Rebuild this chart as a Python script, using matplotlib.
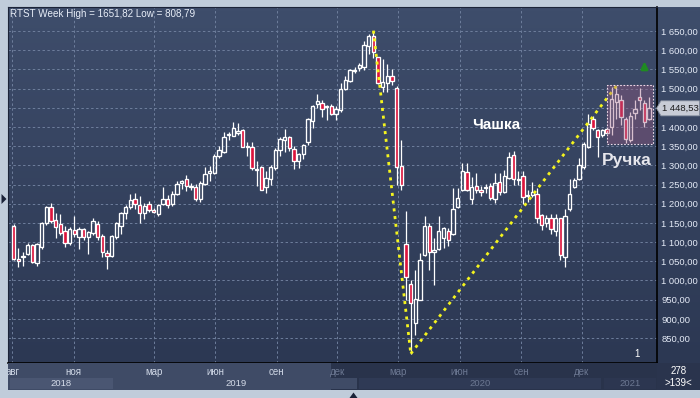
import matplotlib
matplotlib.use('Agg')
import matplotlib.pyplot as plt
import matplotlib.dates as mdates
from matplotlib.colors import LinearSegmentedColormap
from matplotlib.patches import Rectangle, Polygon
import numpy as np
import pandas as pd

plt.rcParams['font.family'] = ['Liberation Sans', 'DejaVu Sans']

# недельные свечи RTS (пятница каждой недели)
first_week = '2018-08-03'
opens = [1141, 1055, 1060, 1069, 1092, 1046, 1088, 1150, 1192, 1157,
         1147, 1130, 1097, 1131, 1112, 1133, 1114, 1123, 1147, 1116,
         1072, 1064, 1112, 1142, 1175, 1191, 1211, 1197, 1176, 1199,
         1184, 1173, 1199, 1211, 1199, 1224, 1253, 1264, 1245, 1244,
         1213, 1251, 1281, 1281, 1324, 1336, 1379, 1376, 1385, 1392,
         1349, 1349, 1288, 1295, 1243, 1265, 1293, 1340, 1366, 1373,
         1342, 1312, 1329, 1361, 1416, 1461, 1463, 1451, 1454, 1435,
         1444, 1500, 1520, 1546, 1553, 1557, 1611, 1637, 1581, 1505,
         1515, 1533, 1501, 1298, 1095, 991, 888, 950, 1066, 1142,
         1075, 1083, 1110, 1130, 1121, 1192, 1236, 1283, 1211, 1247,
         1237, 1240, 1247, 1211, 1257, 1231, 1266, 1327, 1263, 1272,
         1220, 1223, 1225, 1170, 1150, 1162, 1130, 1162, 1060, 1185,
         1244, 1264, 1296, 1349, 1420, 1392, 1379, 1394, 1399, 1465,
         1470, 1420, 1367, 1437, 1477, 1463, 1420]
highs = [1146, 1084, 1075, 1097, 1094, 1098, 1153, 1194, 1203, 1175,
         1173, 1142, 1140, 1168, 1140, 1137, 1130, 1162, 1154, 1120,
         1079, 1118, 1153, 1179, 1197, 1225, 1228, 1220, 1201, 1208,
         1188, 1199, 1244, 1223, 1232, 1258, 1262, 1274, 1253, 1251,
         1260, 1295, 1297, 1329, 1351, 1386, 1386, 1412, 1410, 1394,
         1362, 1360, 1310, 1299, 1286, 1300, 1345, 1375, 1395, 1377,
         1351, 1333, 1356, 1424, 1458, 1487, 1470, 1458, 1461, 1455,
         1515, 1533, 1550, 1556, 1567, 1623, 1643, 1651, 1583, 1578,
         1563, 1550, 1506, 1366, 1182, 1001, 1027, 1071, 1168, 1150,
         1110, 1168, 1140, 1136, 1240, 1240, 1305, 1305, 1270, 1280,
         1245, 1252, 1255, 1279, 1279, 1288, 1334, 1338, 1286, 1286,
         1235, 1257, 1240, 1173, 1170, 1172, 1172, 1164, 1185, 1264,
         1266, 1320, 1360, 1435, 1428, 1394, 1395, 1398, 1505, 1507,
         1482, 1425, 1440, 1470, 1502, 1470, 1478]
lows = [1053, 1036, 1038, 1067, 1046, 1038, 1083, 1145, 1150, 1110,
        1118, 1087, 1092, 1112, 1083, 1105, 1069, 1118, 1105, 1060,
        1029, 1061, 1109, 1120, 1160, 1186, 1187, 1150, 1159, 1178,
        1175, 1168, 1197, 1190, 1194, 1222, 1238, 1234, 1235, 1206,
        1205, 1250, 1259, 1277, 1320, 1331, 1365, 1376, 1378, 1347,
        1323, 1287, 1245, 1235, 1228, 1250, 1289, 1325, 1335, 1338,
        1290, 1294, 1316, 1353, 1398, 1449, 1425, 1418, 1432, 1418,
        1440, 1497, 1516, 1540, 1546, 1549, 1590, 1580, 1512, 1490,
        1490, 1510, 1250, 1236, 949, 809, 858, 948, 1063, 1027,
        988, 1080, 1085, 1090, 1118, 1190, 1234, 1232, 1200, 1228,
        1220, 1229, 1210, 1201, 1222, 1228, 1264, 1250, 1249, 1200,
        1205, 1217, 1150, 1131, 1138, 1120, 1116, 1053, 1036, 1180,
        1240, 1262, 1290, 1345, 1392, 1321, 1375, 1383, 1380, 1420,
        1406, 1357, 1360, 1420, 1444, 1400, 1418]
closes = [1055, 1050, 1063, 1092, 1048, 1095, 1150, 1192, 1156, 1138,
          1124, 1097, 1133, 1121, 1133, 1112, 1127, 1156, 1112, 1075,
          1065, 1116, 1149, 1176, 1192, 1210, 1198, 1175, 1194, 1184,
          1178, 1197, 1213, 1196, 1225, 1251, 1259, 1246, 1243, 1211,
          1253, 1277, 1286, 1324, 1340, 1373, 1381, 1396, 1390, 1349,
          1350, 1292, 1290, 1237, 1266, 1295, 1340, 1368, 1374, 1344,
          1310, 1329, 1353, 1420, 1454, 1468, 1446, 1455, 1435, 1446,
          1498, 1522, 1548, 1548, 1561, 1613, 1637, 1595, 1514, 1517,
          1533, 1521, 1296, 1248, 1008, 941, 951, 1053, 1142, 1075,
          1080, 1130, 1136, 1105, 1185, 1214, 1286, 1237, 1244, 1237,
          1230, 1244, 1214, 1253, 1231, 1272, 1321, 1264, 1262, 1218,
          1222, 1231, 1164, 1144, 1162, 1133, 1162, 1066, 1168, 1225,
          1262, 1301, 1356, 1408, 1396, 1375, 1392, 1385, 1472, 1486,
          1427, 1368, 1429, 1446, 1469, 1413, 1448.53]

price_ticks = [850, 900, 950, 1000, 1050, 1100, 1150, 1200, 1250, 1300,
               1350, 1400, 1450, 1500, 1550, 1600, 1650]
month_ticks = ['2018-08-01', '2018-11-01', '2019-03-01', '2019-06-01', '2019-09-01',
               '2019-12-01', '2020-03-01', '2020-06-01', '2020-09-01', '2020-12-01']
month_labels = ['авг', 'ноя', 'мар', 'июн', 'сен', 'дек', 'мар', 'июн', 'сен', 'дек']
years = ['2018', '2019', '2020', '2021']
last_price = 1448.53

W, H = 700, 398
def frac(x0, y0, x1, y1):
    return [x0 / W, 1 - y1 / H, (x1 - x0) / W, (y1 - y0) / H]

frame_col = '#c0ccda'
red = '#dc143c'
fig = plt.figure(figsize=(7, 3.98), dpi=100, facecolor=frame_col)

# фон с градиентом
bg = fig.add_axes(frac(8.3, 7.3, 700, 363.3))
cmap = LinearSegmentedColormap.from_list('bg', ['#2c3853', '#3e4d6b'])
bg.imshow(np.linspace(0, 1, 100)[::-1].reshape(-1, 1), cmap=cmap, aspect='auto',
          extent=[0, 1, 0, 1])
bg.axis('off')

ax = fig.add_axes(frac(8.3, 7.3, 657.3, 363.3))
ax.set_facecolor('none')

dates = pd.date_range(first_week, periods=len(opens), freq='7D')
x = mdates.date2num(dates)
o = np.array(opens, float)
hi = np.array(highs, float)
lo = np.array(lows, float)
c = np.array(closes, float)
body_lo = np.minimum(o, c)
body_hi = np.maximum(o, c)
up = c >= o

w = 5.0
ax.vlines(x, body_hi, hi, colors='white', lw=0.9, zorder=3)
ax.vlines(x, lo, body_lo, colors='white', lw=0.9, zorder=3)
ax.bar(x, np.maximum(body_hi - body_lo, 2), width=w, bottom=body_lo,
       color=['none' if u else red for u in up], edgecolor='white', linewidth=0.95, zorder=4)

x0 = mdates.date2num(pd.Timestamp(first_week))
ax.set_xlim(x0 - 7.8, x0 + 964.2)
ax.set_ylim(784.1, 1711.8)

month_x = mdates.date2num(pd.to_datetime(month_ticks))
ax.set_xticks(month_x)
ax.set_yticks(price_ticks)
# метка 1450 закрыта меткой последней цены
ax.set_yticklabels(['' if v == 1450 else
                    (f'{v // 1000} {v % 1000:03d},00' if v >= 1000 else f'{v},00')
                    for v in price_ticks])
ax.yaxis.tick_right()
ax.tick_params(axis='y', length=0, pad=3, labelsize=6.8, labelcolor='#e4eaf6')
ax.tick_params(axis='x', length=0, labelbottom=False)
ax.grid(True, color='#6e7e9c', linestyle=(0, (2.5, 2.5)), linewidth=0.7, zorder=1)
for s in ['top', 'left']:
    ax.spines[s].set_color('#1c2438')
for s in ['right', 'bottom']:
    ax.spines[s].set_color('black')
    ax.spines[s].set_linewidth(1.2)

# линии чашки
i_peak, i_low, i_end = 77, 85, 129
ax.plot([x[i_peak], x[i_low]], [hi[i_peak], lo[i_low]], color='#f4f41e', lw=2,
        dashes=(1.1, 1.7), zorder=5)
ax.plot([x[i_low], x[i_end]], [lo[i_low], hi[i_end]], color='#f4f41e', lw=2,
        dashes=(1.1, 1.7), zorder=5)

# прямоугольник ручки
ax.add_patch(Rectangle((x[127], 1356), x[136] + 5.3 - x[127], 1509 - 1356,
                       facecolor='#9a5a82', alpha=0.38, edgecolor='none', zorder=6))
ax.add_patch(Rectangle((x[127], 1356), x[136] + 5.3 - x[127], 1509 - 1356,
                       facecolor='none', edgecolor='#f0dcea', lw=0.8,
                       linestyle=(0, (1.5, 1.5)), zorder=6))

ax.annotate('', xy=(x[135], 1578), xytext=(x[135], 1546),
            arrowprops=dict(arrowstyle='-|>', color='#1f8a22', lw=2.2, mutation_scale=9),
            zorder=7)

ax.text(0.7515, 0.6694, 'Чашка', transform=ax.transAxes, ha='center', va='center',
        fontsize=11, fontweight='bold', color='white', zorder=8)
ax.text(0.9535, 0.5707, 'Ручка', transform=ax.transAxes, ha='center', va='center',
        fontsize=12.5, fontweight='bold', color='#e6e6ec', zorder=8)
ax.text(0.9687, 0.013, '1', transform=ax.transAxes, ha='center', va='bottom',
        fontsize=7, color='white', zorder=8)

# метка последней цены
py = 363.3 - (last_price - 784.1) / (1711.8 - 784.1) * 356
fig.patches.append(Polygon([[656.5 / W, 1 - py / H], [661 / W, 1 - (py - 7.5) / H],
                            [699.5 / W, 1 - (py - 7.5) / H], [699.5 / W, 1 - (py + 7.5) / H],
                            [661 / W, 1 - (py + 7.5) / H]],
                           closed=True, transform=fig.transFigure, facecolor='#c8ccd6',
                           edgecolor='#8890a0', lw=0.6, zorder=10))
fig.text(680.5 / W, 1 - py / H, '1 448,53', ha='center', va='center', fontsize=6.8,
         color='#1a1a1a', zorder=11)

fig.text(10 / W, 1 - 14 / H, 'RTST Week High = 1651,82 Low = 808,79', ha='left',
         va='center', fontsize=7.1, color='#e8eef8')

# нижняя панель с датами
axb = fig.add_axes(frac(8.3, 363.3, 657.3, 390))
axb.set_xlim(ax.get_xlim())
axb.set_ylim(0, 1)
axb.set_facecolor('#3f4b66')
dark_from = mdates.date2num(pd.Timestamp('2019-11-22'))
axb.add_patch(Rectangle((dark_from, 0), ax.get_xlim()[1] - dark_from, 1,
                        facecolor='#29334b', edgecolor='none'))
year_edges = mdates.date2num(pd.to_datetime(['2018-01-01', '2019-01-01', '2020-01-01',
                                             '2021-01-01', '2022-01-01']))
xl, xr = ax.get_xlim()
box_cols = ['#4a5672', '#3f4b66', '#2f3a55', '#2c3650']
for k, yr in enumerate(years):
    a, b = max(year_edges[k], xl), min(year_edges[k + 1], xr)
    axb.add_patch(Rectangle((a + 2, 0.05), b - a - 4, 0.4, facecolor=box_cols[k],
                            edgecolor='none'))
    axb.text((a + b) / 2, 0.26, yr, ha='center', va='center', fontsize=6.8,
             color='#d4dbe8' if k < 2 else '#6c7892')
for mx, lab in zip(month_x, month_labels):
    axb.text(mx, 0.68, lab, ha='center', va='center', fontsize=7,
             color='#d0d8e6' if mx < dark_from else '#6c7892', clip_on=True)
axb.set_xticks([])
axb.set_yticks([])
for s in axb.spines.values():
    s.set_visible(False)

axc = fig.add_axes(frac(657.3, 363.3, 700, 390))
axc.set_facecolor('#2a344d')
axc.set_xticks([])
axc.set_yticks([])
for s in axc.spines.values():
    s.set_visible(False)
axc.text(0.5, 0.7, '278', ha='center', va='center', fontsize=7, color='white')
axc.text(0.5, 0.28, '>139<', ha='center', va='center', fontsize=7, color='white')

# треугольники на рамке
fig.patches.append(Polygon([[1.5 / W, 1 - 194 / H], [6.5 / W, 1 - 199 / H], [1.5 / W, 1 - 204 / H]],
                           closed=True, transform=fig.transFigure, facecolor='#1a2238'))
fig.patches.append(Polygon([[349.5 / W, 1 - 398 / H], [353.5 / W, 1 - 392.5 / H], [357.5 / W, 1 - 398 / H]],
                           closed=True, transform=fig.transFigure, facecolor='#1a2238'))

fig.savefig('out.png', dpi=100, facecolor=frame_col)
